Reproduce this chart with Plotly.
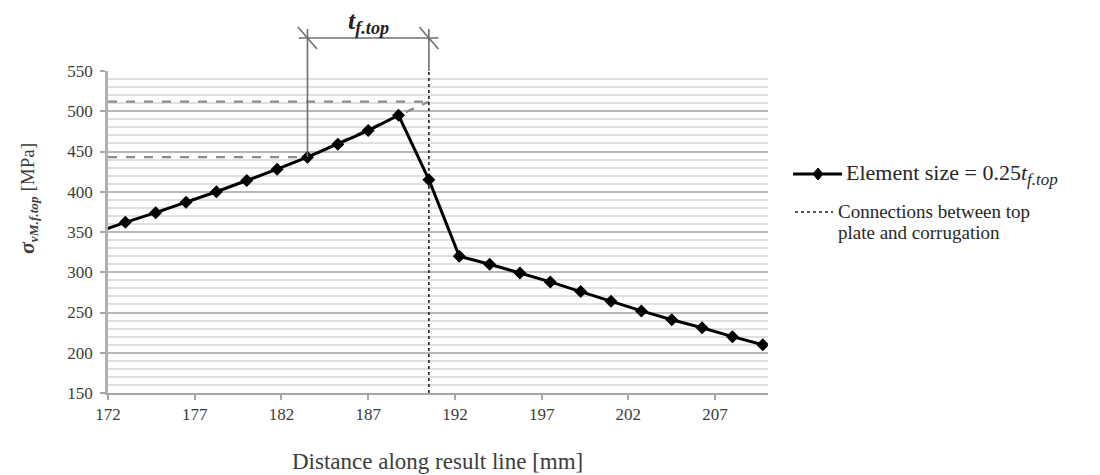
import plotly.graph_objects as go

# Stress along the result line (element size 0.25 t_f.top, spacing 1.75 mm)
distance_mm = [171.25, 173.0, 174.75, 176.5, 178.25, 180.0, 181.75, 183.5, 185.25, 187.0,
               188.75, 190.5, 192.25, 194.0, 195.75, 197.5, 199.25, 201.0, 202.75, 204.5,
               206.25, 208.0, 209.75]
stress_mpa = [349, 362, 374, 387, 400, 414, 428, 443, 459, 476,
              495, 415, 320, 310, 299, 288, 276, 264, 252, 241,
              231, 220, 210]

# Connection between top plate and corrugation
connection_x = [190.5, 190.5]
connection_y = [150, 550]

# Reference levels at the edges of the flange thickness
t_left, t_right = 183.5, 190.5
level_low, level_high = 443, 512

x_range = [172, 210.05]
y_range = [150, 550]
x_ticks = [172, 177, 182, 187, 192, 197, 202, 207]

FONT = "Liberation Serif, Times New Roman, serif"
TXT = "#3c3c3c"

L, R, T, B = 108, 332, 71, 82
W, H = 1100, 475
PW, PH = W - L - R, H - T - B


def px(xp):
    return (xp - L) / PW


def py(yp):
    return (H - B - yp) / PH


def ypaper(v):
    return (v - y_range[0]) / (y_range[1] - y_range[0])


fig = go.Figure()

# Dashed reference levels and extrapolated slope
dash_style = dict(color="#8c8c8c", width=2.4, dash="dash")
fig.add_trace(go.Scatter(x=[x_range[0], t_right], y=[level_high, level_high], mode="lines",
                         line=dash_style, showlegend=False, hoverinfo="skip"))
fig.add_trace(go.Scatter(x=[x_range[0], t_left], y=[level_low, level_low], mode="lines",
                         line=dash_style, showlegend=False, hoverinfo="skip"))
fig.add_trace(go.Scatter(x=[t_left, t_right], y=[level_low, level_high], mode="lines",
                         line=dash_style, showlegend=False, hoverinfo="skip"))

# Connection line
fig.add_trace(go.Scatter(x=connection_x, y=connection_y, mode="lines",
                         line=dict(color="#222222", width=1.6, dash="dot"),
                         showlegend=False, hoverinfo="skip"))

# Main stress curve
fig.add_trace(go.Scatter(x=distance_mm, y=stress_mpa, mode="lines+markers",
                         line=dict(color="black", width=3),
                         marker=dict(symbol="diamond", size=10, color="black"),
                         showlegend=False))

shapes = []
dim_y = py(38)
tick_top = py(29)
slash_dx = 0.55
slash_dy = 11 / PH
gray = "#6e6e6e"

# Dimension line for t_f.top
shapes.append(dict(type="line", xref="x", yref="paper", x0=t_left - 0.5, x1=t_right + 0.55,
                   y0=dim_y, y1=dim_y, line=dict(color=gray, width=1.6)))
shapes.append(dict(type="line", xref="x", yref="paper", x0=t_left, x1=t_left,
                   y0=tick_top, y1=ypaper(level_low), line=dict(color=gray, width=1.6)))
shapes.append(dict(type="line", xref="x", yref="paper", x0=t_right, x1=t_right,
                   y0=tick_top, y1=1.0, line=dict(color=gray, width=1.6)))
for xc in (t_left, t_right):
    shapes.append(dict(type="line", xref="x", yref="paper",
                       x0=xc - slash_dx, x1=xc + slash_dx,
                       y0=dim_y + slash_dy, y1=dim_y - slash_dy,
                       line=dict(color=gray, width=1.6)))

# Legend samples
shapes.append(dict(type="line", xref="paper", yref="paper", x0=px(793), x1=px(842),
                   y0=py(174), y1=py(174), line=dict(color="black", width=3)))
cx, cy = px(818), py(174)
ddx, ddy = 5 / PW, 6 / PH
shapes.append(dict(type="path", xref="paper", yref="paper",
                   path=f"M {cx-ddx} {cy} L {cx} {cy+ddy} L {cx+ddx} {cy} L {cx} {cy-ddy} Z",
                   fillcolor="black", line=dict(color="black", width=1)))
shapes.append(dict(type="line", xref="paper", yref="paper", x0=px(795), x1=px(833),
                   y0=py(212), y1=py(212), line=dict(color="#222222", width=1.6, dash="dot")))

LEG = "#262626"
annotations = [
    dict(text="<b><i>t</i></b><sub><b><i>f.top</i></b></sub>", xref="x", yref="paper",
         x=(t_left + t_right) / 2, y=py(22), xanchor="center", yanchor="middle",
         showarrow=False, font=dict(family=FONT, size=26, color="#222222")),
    dict(text="<b><i><span style='font-size:22px'>σ</span></i></b>"
              "<sub><b><i>vM.f.top</i></b></sub> [MPa]",
         xref="paper", yref="paper", x=px(27), y=py(199), xanchor="center", yanchor="middle",
         textangle=-90, showarrow=False, font=dict(family=FONT, size=19, color=TXT)),
    dict(text="Distance along result line [mm]", xref="paper", yref="paper",
         x=px(437), y=py(462), xanchor="center", yanchor="middle", showarrow=False,
         font=dict(family=FONT, size=23, color=TXT)),
    dict(text="Element size = 0.25<i>t</i><sub><i><span style='font-size:17px'>f.top</span></i></sub>",
         xref="paper", yref="paper", x=px(844), y=py(174), xanchor="left", yanchor="middle",
         showarrow=False, font=dict(family=FONT, size=22, color=LEG)),
    dict(text="Connections between top",
         xref="paper", yref="paper", x=px(836), y=py(211), xanchor="left", yanchor="middle",
         showarrow=False, font=dict(family=FONT, size=19, color=LEG)),
    dict(text="plate and corrugation",
         xref="paper", yref="paper", x=px(836), y=py(233), xanchor="left", yanchor="middle",
         showarrow=False, font=dict(family=FONT, size=19, color=LEG)),
]

fig.update_layout(
    width=W, height=H,
    margin=dict(l=L, r=R, t=T, b=B),
    paper_bgcolor="white", plot_bgcolor="white",
    shapes=shapes, annotations=annotations,
    font=dict(family=FONT, color=TXT),
    xaxis=dict(range=x_range, tickvals=x_ticks, ticktext=[str(v) for v in x_ticks],
               showgrid=False, zeroline=False, showline=True, linecolor="#a6a6a6", linewidth=2,
               ticks="outside", ticklen=5, tickcolor="#a6a6a6", tickwidth=1.5,
               tickfont=dict(family=FONT, size=17, color=TXT)),
    yaxis=dict(range=y_range, dtick=50, tick0=150, showgrid=True, gridcolor="#b8b8b8",
               gridwidth=1.8, zeroline=False, showline=True, linecolor="#b0b0b0", linewidth=2.5,
               ticks="outside", ticklen=5, tickcolor="#a6a6a6", tickwidth=1.5,
               ticklabelstandoff=4,
               tickfont=dict(family=FONT, size=17, color=TXT),
               minor=dict(dtick=10, showgrid=True, gridcolor="#e0e0e0", gridwidth=1.8)),
)

fig.write_html("out.html")
